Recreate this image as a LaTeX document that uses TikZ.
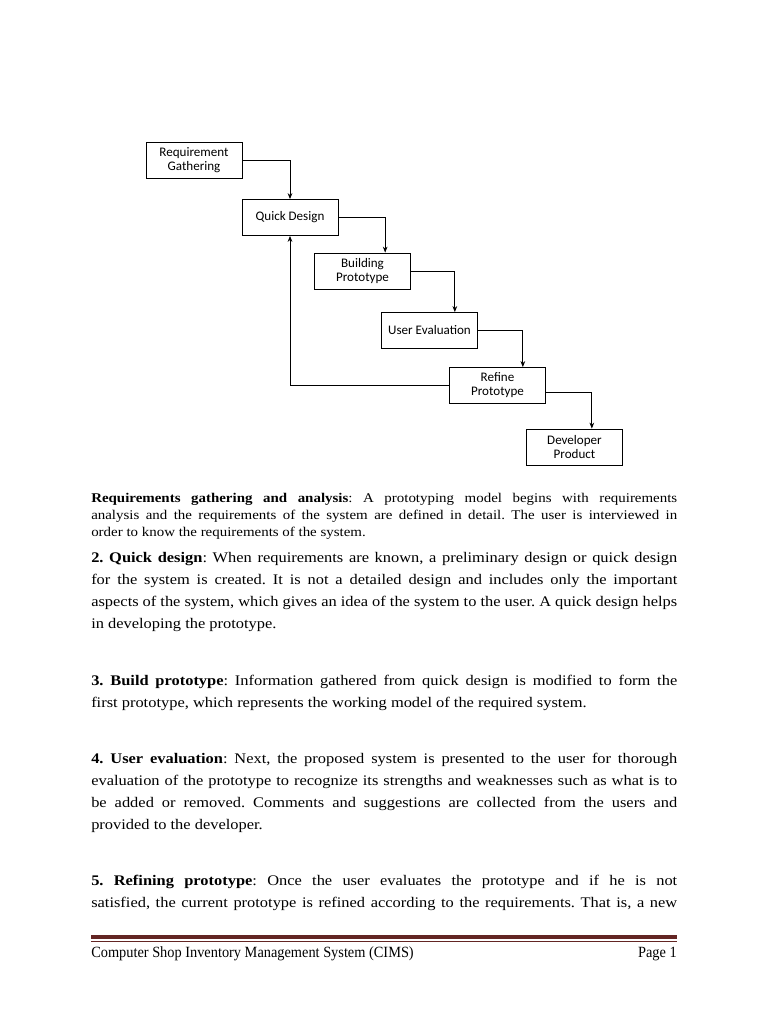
\documentclass[tikz,border=0pt]{standalone}
\usepackage{fontspec}
\setmainfont[FakeStretch=1.12]{Liberation Serif}
\newfontfamily\boxfont{Carlito}
\newfontfamily\footfont[FakeStretch=0.92]{Liberation Serif}
\usetikzlibrary{arrows.meta}
\definecolor{footred}{HTML}{632523}
\frenchspacing

\begin{document}
\begin{tikzpicture}[x=0.75pt,y=-0.75pt,
 box/.style={draw,line width=0.6pt,minimum width=72pt,minimum height=27pt,inner sep=1pt,align=center,font=\boxfont\fontsize{9.8}{10.5}\selectfont},
 flow/.style={-{Stealth[length=4.5pt,width=3.5pt]},line width=0.6pt},
 para/.style={anchor=base west,text width=439.5pt,inner sep=0pt,align=justify,font=\fontsize{11}{16.7}\selectfont},
 firstpara/.style={para,font=\fontsize{10}{12.75}\selectfont}]
\useasboundingbox (0,0) rectangle (768,1024);

% the prototyping steps
\node [box] (req) at (194,160.5) {Requirement\\Gathering};
\node [box] (qd) at (290,217.5) {Quick Design};
\node [box] (bp) at (362.5,271) {Building\\Prototype};
\node [box] (ue) at (429.5,330.5) {User Evaluation};
\node [box] (rp) at (497.5,385.5) {Refine\\Prototype};
\node [box] (dp) at (574.5,447) {Developer\\Product};

\draw [flow] (req.east) -| (qd.north);
\draw [flow] (qd.east) -| ([xshift=17pt]bp.north);
\draw [flow] (bp.east) -| ([xshift=19pt]ue.north);
\draw [flow] (ue.east) -| ([xshift=19pt]rp.north);
\draw [flow] ([yshift=-5pt]rp.east) -| ([xshift=13pt]dp.north);
\draw [flow] (rp.west) -| (qd.south);

% text below
\node [firstpara] (p1) at (91,502) {\textbf{Requirements gathering and analysis}: A prototyping model begins with requirements\linebreak analysis and the requirements of the system are defined in detail. The user is interviewed in\linebreak order to know the requirements of the system.};
\node [para] (p2) at (91,562) {\textbf{2. Quick design}: When requirements are known, a preliminary design or quick design\linebreak for the system is created. It is not a detailed design and includes only the important\linebreak aspects of the system, which gives an idea of the system to the user. A quick design helps\linebreak in developing the prototype.};
\node [para] (p3) at (91,685) {\textbf{3. Build prototype}: Information gathered from quick design is modified to form the\linebreak first prototype, which represents the working model of the required system.};
\node [para] (p4) at (91,763) {\textbf{4. User evaluation}: Next, the proposed system is presented to the user for thorough\linebreak evaluation of the prototype to recognize its strengths and weaknesses such as what is to\linebreak be added or removed. Comments and suggestions are collected from the users and\linebreak provided to the developer.};
\node [para] (p5) at (91,885) {\textbf{5. Refining prototype}: Once the user evaluates the prototype and if he is not\linebreak satisfied, the current prototype is refined according to the requirements. That is, a new\parfillskip=0pt\par};

% footer
\draw [footred,line width=2.4pt] (91,937) -- (677,937);
\draw [footred,line width=0.75pt] (91,941) -- (677,941);
\node [anchor=base west,inner sep=0pt,font=\footfont\fontsize{11.7}{13}\selectfont] (foot) at (91,957) {Computer Shop Inventory Management System (CIMS)};
\node [anchor=base east,inner sep=0pt,font=\footfont\fontsize{11.7}{13}\selectfont] (page) at (677,957) {Page 1};
\end{tikzpicture}
\end{document}
